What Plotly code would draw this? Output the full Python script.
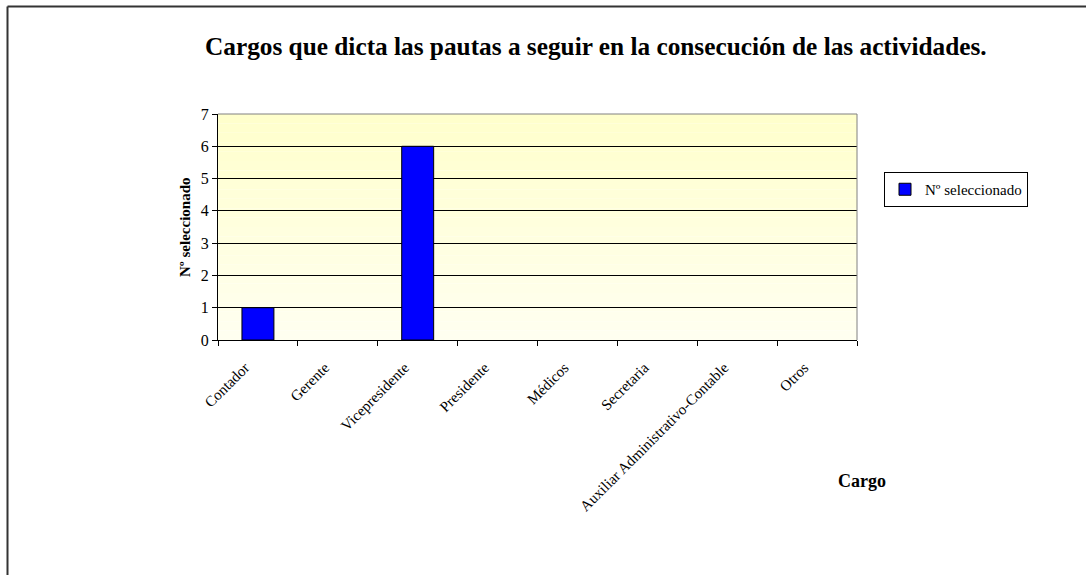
import plotly.graph_objects as go

categories = ["Contador", "Gerente", "Vicepresidente", "Presidente", "Médicos",
              "Secretaria", "Auxiliar Administrativo-Contable", "Otros"]
values = [1, 0, 6, 0, 0, 0, 0, 0]
series_name = "Nº seleccionado"
title_text = "Cargos que dicta las pautas a seguir en la consecución de las actividades."
x_title = "Cargo"
y_title = "Nº seleccionado"

W, H = 1086, 575
L, R, T, B = 218, 857, 114, 340
FONT = "Liberation Serif"

fig = go.Figure()
fig.add_trace(go.Bar(
    x=categories, y=values, name=series_name, width=0.4,
    marker=dict(color="#0000FF",
                line=dict(color="black", width=[1 if v > 0 else 0 for v in values])),
    showlegend=True,
))

# gradient background of the plot area
shapes = []
n = 24
top_c = (255, 255, 204)
bot_c = (255, 255, 240)
for i in range(n):
    f = i / (n - 1)
    c = tuple(round(top_c[k] + (bot_c[k] - top_c[k]) * f) for k in range(3))
    shapes.append(dict(type="rect", xref="paper", yref="paper",
                       x0=0, x1=1, y0=1 - (i + 1) / n, y1=1 - i / n,
                       fillcolor="rgb(%d,%d,%d)" % c, line=dict(width=0), layer="below"))
# gray top/right edges of plot area
shapes.append(dict(type="line", xref="paper", yref="paper", x0=0, x1=1, y0=1, y1=1,
                   line=dict(color="#808080", width=1), layer="above"))
shapes.append(dict(type="line", xref="paper", yref="paper", x0=1, x1=1, y0=0, y1=1,
                   line=dict(color="#808080", width=1), layer="above"))
# outer chart border (left and top visible)
pw, ph = R - L, B - T
bx = (7.5 - L) / pw
by = (B - 6.5) / ph
shapes.append(dict(type="line", xref="paper", yref="paper", x0=bx, x1=bx, y0=-1.2, y1=by,
                   line=dict(color="#333333", width=2)))
shapes.append(dict(type="line", xref="paper", yref="paper", x0=bx, x1=1.5, y0=by, y1=by,
                   line=dict(color="#333333", width=2)))

annotations = [
    dict(text="<b>%s</b>" % title_text, xref="paper", yref="paper",
         x=(596 - L) / pw, y=(B - 46) / ph, showarrow=False,
         font=dict(family=FONT, size=25.3, color="black"), xanchor="center", yanchor="middle"),
    dict(text="<b>%s</b>" % y_title, xref="paper", yref="paper",
         x=(185 - L) / pw, y=0.5, showarrow=False, textangle=-90,
         font=dict(family=FONT, size=15, color="black"), xanchor="center", yanchor="middle"),
    dict(text="<b>%s</b>" % x_title, xref="paper", yref="paper",
         x=(862 - L) / pw, y=(B - 481) / ph, showarrow=False,
         font=dict(family=FONT, size=18, color="black"), xanchor="center", yanchor="middle"),
]

fig.update_layout(
    width=W, height=H,
    margin=dict(l=L, r=W - R, t=T, b=H - B, pad=0),
    paper_bgcolor="white", plot_bgcolor="rgba(0,0,0,0)",
    font=dict(family=FONT, color="black"),
    shapes=shapes, annotations=annotations,
    bargap=0.6,
    legend=dict(x=(884 - L) / pw, y=(B - 172) / ph, xanchor="left", yanchor="top",
                bordercolor="black", borderwidth=1, bgcolor="white",
                font=dict(family=FONT, size=15, color="black")),
    xaxis=dict(type="category", tickson="boundaries", ticks="outside", ticklen=5,
               tickcolor="black", showline=True, linecolor="black", linewidth=1,
               showgrid=False, tickangle=-45, tickfont=dict(family=FONT, size=15),
               ticklabelshift=-13, ticklabelstandoff=12,
               fixedrange=True),
    yaxis=dict(range=[0, 7], dtick=1, ticks="outside", ticklen=5, tickcolor="black",
               showline=True, linecolor="black", linewidth=1, showgrid=True,
               gridcolor="black", gridwidth=1, zeroline=False,
               tickfont=dict(family=FONT, size=16), fixedrange=True),
)

fig.write_html("out.html", config={"displayModeBar": False},
               post_script="document.body.style.margin='0';")
